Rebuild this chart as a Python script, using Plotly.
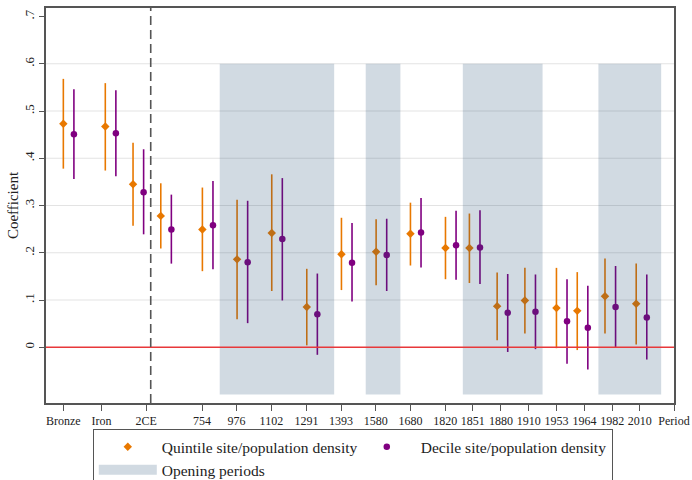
import plotly.graph_objects as go

# ---- data ----
group_pos = [5.0, 17.1, 25.1, 33.1, 45.1, 55.1, 65.1, 75.2, 85.2, 95.2, 105.1,
             115.2, 122.1, 130.1, 138.1, 147.2, 153.2, 161.2, 170.2]
quint_coef = [0.473, 0.467, 0.345, 0.278, 0.249, 0.186, 0.242, 0.085, 0.197, 0.202,
              0.240, 0.210, 0.210, 0.087, 0.099, 0.083, 0.077, 0.108, 0.092]
quint_lo = [0.378, 0.374, 0.257, 0.209, 0.161, 0.059, 0.119, 0.004, 0.121, 0.131,
            0.173, 0.144, 0.136, 0.015, 0.029, -0.002, -0.006, 0.029, 0.006]
quint_hi = [0.568, 0.559, 0.433, 0.347, 0.338, 0.312, 0.366, 0.166, 0.274, 0.271,
            0.306, 0.276, 0.283, 0.158, 0.168, 0.168, 0.159, 0.188, 0.177]
dec_coef = [0.451, 0.453, 0.328, 0.249, 0.258, 0.180, 0.229, 0.070, 0.179, 0.195,
            0.243, 0.216, 0.211, 0.073, 0.075, 0.055, 0.041, 0.085, 0.063]
dec_lo = [0.356, 0.362, 0.239, 0.177, 0.165, 0.051, 0.099, -0.016, 0.097, 0.119,
          0.169, 0.143, 0.134, -0.010, -0.004, -0.035, -0.047, -0.001, -0.026]
dec_hi = [0.546, 0.544, 0.419, 0.323, 0.352, 0.310, 0.358, 0.156, 0.263, 0.272,
          0.316, 0.289, 0.290, 0.155, 0.154, 0.144, 0.130, 0.172, 0.154]
dec_offset = 3.05

tick_pos = [5.0, 16.0, 28.9, 45.0, 54.9, 65.0, 75.1, 85.1, 95.1, 105.1, 115.1,
            123.1, 131.2, 139.2, 147.2, 155.3, 163.3, 171.2, 181.1]
tick_labels = ["Bronze", "Iron", "2CE", "754", "976", "1102", "1291", "1393", "1580",
               "1680", "1820", "1851", "1880", "1910", "1953", "1964", "1982", "2010",
               "Period"]
y_ticks = [0, 0.1, 0.2, 0.3, 0.4, 0.5, 0.6, 0.7]
y_tick_labels = ["0", ".1", ".2", ".3", ".4", ".5", ".6", ".7"]
grid_vals = [0.1, 0.2, 0.3, 0.4, 0.5, 0.6]

opening_periods = [(50.1, 83.1), (92.2, 102.2), (120.2, 143.2), (159.3, 177.4)]
band_bottom, band_top = -0.1, 0.6
break_pos = 30.2

ORANGE = "#E87800"
PURPLE = "#800080"
BAND = "rgba(26,71,111,0.2)"
FONT = "Liberation Serif"

fig = go.Figure()

fig.add_trace(go.Scatter(
    x=group_pos, y=quint_coef, mode="markers", name="Quintile site/population density",
    marker=dict(symbol="diamond", size=6.5, color=ORANGE),
    error_y=dict(type="data", symmetric=False,
                 array=[h - c for h, c in zip(quint_hi, quint_coef)],
                 arrayminus=[c - l for c, l in zip(quint_coef, quint_lo)],
                 width=0, thickness=1.6, color=ORANGE),
))
fig.add_trace(go.Scatter(
    x=[p + dec_offset for p in group_pos], y=dec_coef, mode="markers",
    name="Decile site/population density",
    marker=dict(symbol="circle", size=6.5, color=PURPLE),
    error_y=dict(type="data", symmetric=False,
                 array=[h - c for h, c in zip(dec_hi, dec_coef)],
                 arrayminus=[c - l for c, l in zip(dec_coef, dec_lo)],
                 width=0, thickness=1.6, color=PURPLE),
))
# legend-only entry for the shaded periods
fig.add_trace(go.Scatter(
    x=[None], y=[None], mode="lines", name="Opening periods",
    line=dict(color=BAND, width=13),
))

shapes = []
for g in grid_vals:
    shapes.append(dict(type="line", xref="paper", x0=0, x1=1, yref="y", y0=g, y1=g,
                       line=dict(color="#E3E3E3", width=1), layer="below"))
for a, b in opening_periods:
    shapes.append(dict(type="rect", xref="x", yref="y", x0=a, x1=b,
                       y0=band_bottom, y1=band_top, fillcolor=BAND,
                       line=dict(width=0), layer="above"))
shapes.append(dict(type="line", xref="paper", x0=0, x1=1, yref="y", y0=0, y1=0,
                   line=dict(color="#E8383A", width=1.6), layer="above"))
shapes.append(dict(type="line", xref="x", x0=break_pos, x1=break_pos, yref="paper",
                   y0=0, y1=1, line=dict(color="#555555", width=1.6, dash="9px,5px"),
                   layer="above"))

fig.update_layout(
    width=692, height=480,
    margin=dict(l=45.5, r=18, t=7.5, b=77, autoexpand=False),
    paper_bgcolor="white", plot_bgcolor="white",
    font=dict(family=FONT, color="#222222", size=12),
    shapes=shapes,
    showlegend=True,
    legend=dict(orientation="h", x=0.0745, y=-0.066, xanchor="left", yanchor="top",
                bordercolor="#555555", borderwidth=1, bgcolor="white",
                font=dict(family=FONT, size=15.5, color="#222222"),
                itemwidth=58, entrywidth=186, traceorder="normal"),
    xaxis=dict(range=[0, 181.1], tickmode="array", tickvals=tick_pos,
               ticktext=tick_labels, showgrid=False, zeroline=False,
               showline=True, linecolor="#555555", linewidth=1.5, mirror=True,
               ticks="outside", ticklen=6, tickcolor="#555555",
               tickfont=dict(family=FONT, size=12, color="#222222"), tickangle=0),
    yaxis=dict(range=[-0.118, 0.718], tickmode="array", tickvals=y_ticks,
               ticktext=y_tick_labels, showgrid=False, zeroline=False,
               showline=True, linecolor="#555555", linewidth=1.5, mirror=True,
               ticks="outside", ticklen=5, tickcolor="#555555", tickangle=-90,
               tickfont=dict(family=FONT, size=13, color="#222222"),
               title=dict(text="Coefficient", font=dict(family=FONT, size=15),
                          standoff=0)),
)

fig.write_html("out.html")
